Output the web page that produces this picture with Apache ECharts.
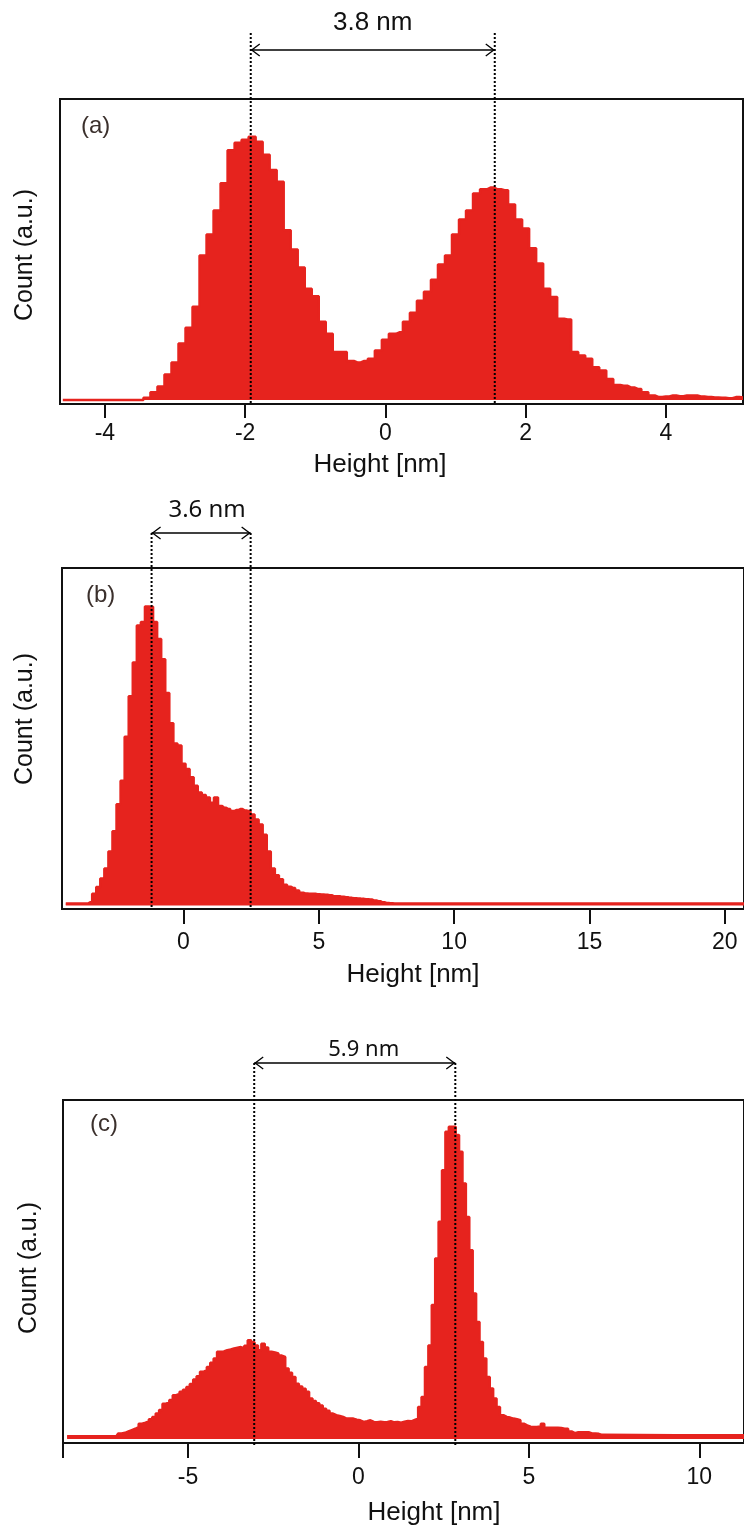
<!DOCTYPE html>
<html><head><meta charset="utf-8">
<script src="https://cdn.jsdelivr.net/npm/echarts@6/dist/echarts.min.js"></script>
<style>html,body{margin:0;padding:0;background:#fff}#c{width:744px;height:1533px}</style>
</head><body><div id="c"></div>
<script>
// ---------- data ----------
// Panel (a): bins of 0.1 nm starting at -4.6 nm
const startA = -4.6, stepA = 0.1;
const countsA = [
  0,0,0,0,0,0,0,0,0,0,0,0,
  0.8,2.6,4.5,8.5,12.5,18.8,24,31,48,55,63,72,83,85.5,86.5,87.5,85.8,81.5,76.4,72.5,
  56.4,50,44,37,34.5,26,22,16,16,13,12.5,13,13.7,16.5,20,22,22.5,26,29,33,36,40,45,48,
  55,60,63,68.6,70,70.6,70,69.7,65,60,57,50.4,45.4,37,34.2,27,26.8,16,14.8,13.7,10.9,9.8,
  7,5,4.8,4.2,3.7,2.6,1.5,1,1.2,1.5,1.3,1.5,1.5,1.2,1.0,0.9,0.8,0.6,1,0.9
];
// Panel (b): bins of 0.15 nm starting at -4.35 nm, flat tail up to the axis end
const startB = -4.35, stepB = 0.15, endB = 20.8, tailB = 0.6;
const countsB = [
  0.6,0.6,0.6,0.6,0.6,0.6,1,3.5,5.5,8,11,16,22,30,37,50,62,72,83,84,88.6,88.5,84,79,73,63,54,48,47.4,
  42,40.5,38,35.5,33.5,32.8,32,30.5,32,29.5,29,28.6,28,28.3,28.6,28.2,28,27,25.5,24,21,16,11,9,7.8,
  6.2,5.6,5.2,4.5,3.8,3.6,3.5,3.5,3.4,3.3,3.2,3.1,2.8,2.8,2.6,2.5,2.3,2.2,2.1,2,1.9,1.8,1.5,1.3,1.0,
  0.8,0.7,0.6
];
// Panel (c): bins of 0.1 nm starting at -7.2 nm, flat head and tail
const startC = -7.2, stepC = 0.1, headXC = -8.55, headC = 0.8, endC = 11.4, tailC = 1.1;
const countsC = [
  0.8,0.9,1.6,1.8,2.2,2.6,3.0,3.5,4.5,4.8,5.2,5.8,6.5,7.5,8.5,10.4,10.8,11.5,12.9,13.3,13.9,14.5,
  15.3,16.2,17.5,18.5,19.8,20.3,21.2,22.5,23.7,25.7,25.8,26.2,26.4,26.7,26.9,27.1,26.8,27.5,29.1,
  28.5,27.6,26.2,28.1,27,25.7,25.5,25.2,24.6,24.2,20.8,19.5,18.3,16.3,15.5,14.8,13.9,11.9,11.2,10.5,
  9.9,8.9,8.3,7.5,7.0,6.8,6.5,6.0,6.0,6.0,5.7,5.5,5.0,5.2,5.5,5.0,4.9,5.1,4.9,5.0,5.2,4.9,5.0,4.8,
  5.1,5.3,5.2,5.6,6.0,9.4,12.4,21.2,27.6,39.5,53.2,64.1,79.3,90.6,92.1,92.1,89.7,84.7,75.4,65.5,
  55.7,42.9,34.5,28.6,23.7,18.3,14.9,11.9,9.4,7.0,6.5,6.3,6.0,5.8,5.5,4.5,4.0,3.6,3.5,3.5,3.8,4.5,
  3.3,3.3,3.3,3.3,3.2,3.0,3.0,2.2,1.7,2.0,2.0,2.0,2.0,1.6,1.6,1.5,1.2,1.1
];
const xRangeA = [-4.64, 5.1], xRangeB = [-4.49, 20.71], xRangeC = [-8.67, 11.31];
const ticksA = [-4, -2, 0, 2, 4];
const ticksB = [0, 5, 10, 15, 20];
const ticksC = [-5, 0, 5, 10];
const peaksA = [-1.92, 1.56], peaksB = [-1.18, 2.48], peaksC = [-3.06, 2.84];
const gapLabels = ['3.8 nm', '3.6 nm', '5.9 nm'];
const panelTags = ['(a)', '(b)', '(c)'];
const xTitle = 'Height [nm]', yTitle = 'Count (a.u.)';

// ---------- build ----------
const RED = '#e6231e', INK = '#111';
function bins(start, step, counts) {
  return counts.map((v, i) => [Math.round((start + i * step) * 1000) / 1000, v]);
}
const dataA = bins(startA, stepA, countsA);
const dataB = bins(startB, stepB, countsB).concat([[endB, tailB]]);
const dataC = [[headXC, headC]].concat(bins(startC, stepC, countsC), [[endC, tailC]]);

const grids = [
  {left: 60, top: 99, width: 683, height: 305},
  {left: 62, top: 568, width: 684, height: 341},
  {left: 63, top: 1100, width: 683, height: 343}
].map(g => Object.assign(g, {show: true, borderColor: INK, borderWidth: 2, backgroundColor: 'transparent'}));

function xAxis(i, range, ticks, tickExtra, margin, tickLen) {
  return {
    type: 'value', gridIndex: i, min: range[0], max: range[1],
    axisLine: {show: true, onZero: false, lineStyle: {color: INK, width: 2}},
    axisTick: {show: true, inside: false, length: tickLen, lineStyle: {color: INK, width: 2},
               customValues: ticks.concat(tickExtra)},
    axisLabel: {show: true, customValues: ticks, margin: margin, fontSize: 23, color: INK,
                fontFamily: '"Liberation Sans", Arial, sans-serif'},
    splitLine: {show: false}
  };
}
function yAxis(i, min, max) {
  return {type: 'value', gridIndex: i, min: min, max: max, show: false, splitLine: {show: false}};
}
function series(i, data) {
  return {
    type: 'line', xAxisIndex: i, yAxisIndex: i, data: data, step: 'middle',
    showSymbol: false, symbol: 'none', animation: false,
    lineStyle: {color: RED, width: 2.5}, areaStyle: {color: RED, opacity: 1},
    itemStyle: {color: RED}
  };
}

const chart = echarts.init(document.getElementById('c'), null, {renderer: 'canvas'});
chart.setOption({
  backgroundColor: '#fff',
  animation: false,
  grid: grids,
  xAxis: [
    xAxis(0, xRangeA, ticksA, [], 18, 14),
    xAxis(1, xRangeB, ticksB, [], 22, 15),
    xAxis(2, xRangeC, ticksC, [xRangeC[0]], 23, 15)
  ],
  yAxis: [yAxis(0, -1.3, 100), yAxis(1, -1, 100), yAxis(2, -1.2, 100)],
  series: [series(0, dataA), series(1, dataB), series(2, dataC)]
});

// ---------- annotations (positions from the axes' scales) ----------
const annot = [
  {peaks: peaksA, top: 33, bottom: 404, arrowY: 50, textY: 23, dx: 0, font: '26px "Liberation Sans", Arial, sans-serif'},
  {peaks: peaksB, top: 533, bottom: 909, arrowY: 533, textY: 510, dx: 6, font: '24px "Noto Sans", "Open Sans", sans-serif'},
  {peaks: peaksC, top: 1063, bottom: 1445, arrowY: 1063, textY: 1050, dx: 9, font: '22px "Noto Sans", "Open Sans", sans-serif'}
];
const tagPos = [[81, 126], [86, 595], [90, 1124]];
const xTitlePos = [[380, 465], [413, 975], [434, 1513]];
const yTitlePos = [[25, 255], [25, 719], [29, 1268]];

const g = [];
annot.forEach((a, i) => {
  const px = a.peaks.map(p => chart.convertToPixel({xAxisIndex: i}, p));
  px.forEach(x => g.push({type: 'line', z: 100, shape: {x1: x, y1: a.top, x2: x, y2: a.bottom},
    style: {stroke: '#000', lineWidth: 2, lineDash: [2, 2]}}));
  g.push({type: 'line', z: 100, shape: {x1: px[0], y1: a.arrowY, x2: px[1], y2: a.arrowY},
    style: {stroke: '#000', lineWidth: 1.3}});
  g.push({type: 'polyline', z: 100, shape: {points: [[px[0] + 9, a.arrowY - 6], [px[0] + 1, a.arrowY], [px[0] + 9, a.arrowY + 6]]},
    style: {stroke: '#000', lineWidth: 1.3, fill: null}});
  g.push({type: 'polyline', z: 100, shape: {points: [[px[1] - 9, a.arrowY - 6], [px[1] - 1, a.arrowY], [px[1] - 9, a.arrowY + 6]]},
    style: {stroke: '#000', lineWidth: 1.3, fill: null}});
  g.push({type: 'text', z: 100, x: (px[0] + px[1]) / 2 + a.dx, y: a.textY,
    style: {text: gapLabels[i], font: a.font, fill: '#111', textAlign: 'center', textVerticalAlign: 'middle'}});
  g.push({type: 'text', z: 100, x: tagPos[i][0], y: tagPos[i][1],
    style: {text: panelTags[i], font: '24px "Liberation Sans", Arial, sans-serif', fill: '#3b302c', textAlign: 'left', textVerticalAlign: 'middle'}});
  g.push({type: 'text', z: 100, x: xTitlePos[i][0], y: xTitlePos[i][1],
    style: {text: xTitle, font: '26px "Liberation Sans", Arial, sans-serif', fill: INK, textAlign: 'center', textVerticalAlign: 'middle'}});
  g.push({type: 'text', z: 100, x: yTitlePos[i][0], y: yTitlePos[i][1], rotation: Math.PI / 2,
    style: {text: yTitle, font: '25px "Liberation Sans", Arial, sans-serif', fill: INK, textAlign: 'center', textVerticalAlign: 'middle'}});
});
chart.setOption({graphic: g});
</script>
</body></html>
